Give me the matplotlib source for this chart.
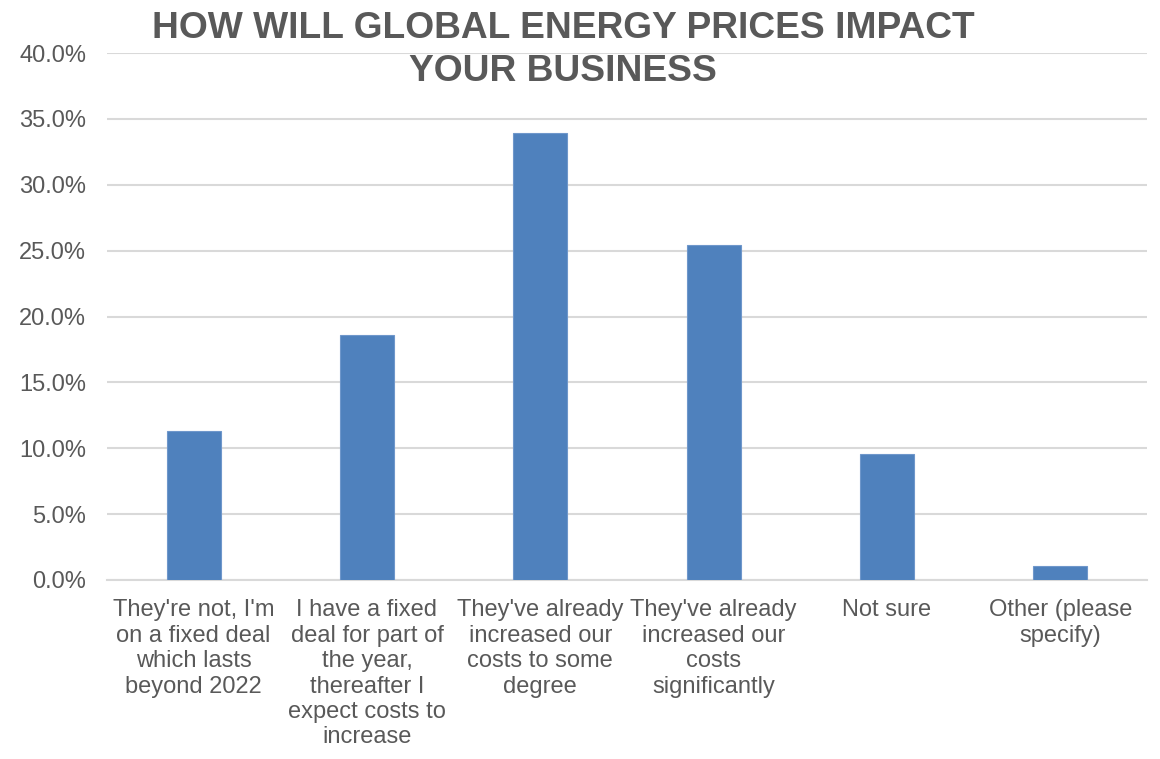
import matplotlib
matplotlib.use("Agg")
import matplotlib.pyplot as plt
from matplotlib.ticker import FuncFormatter, MultipleLocator

plt.rcParams["font.family"] = ["Liberation Sans", "DejaVu Sans"]

title = "HOW WILL GLOBAL ENERGY PRICES IMPACT\nYOUR BUSINESS"
categories = [
    "They're not, I'm\non a fixed deal\nwhich lasts\nbeyond 2022",
    "I have a fixed\ndeal for part of\nthe year,\nthereafter I\nexpect costs to\nincrease",
    "They've already\nincreased our\ncosts to some\ndegree",
    "They've already\nincreased our\ncosts\nsignificantly",
    "Not sure",
    "Other (please\nspecify)",
]
shares = [11.3, 18.6, 33.9, 25.4, 9.6, 1.1]

text_color = "#595959"
bar_color = "#4F81BD"
grid_color = "#D9D9D9"

fig = plt.figure(figsize=(11.6, 7.59), dpi=100)
ax = fig.add_axes([107 / 1160, 1 - 580 / 759, 1040 / 1160, 527 / 759])

x = range(len(categories))
ax.bar(x, shares, width=0.313, color=bar_color, edgecolor="#6F97CB",
       linewidth=0.8, zorder=3)

ax.set_xlim(-0.5, len(categories) - 0.5)
ax.set_ylim(0, 40)
ax.yaxis.set_major_locator(MultipleLocator(5))
ax.yaxis.set_major_formatter(FuncFormatter(lambda v, _: f"{v:.1f}%"))
ax.grid(axis="y", color=grid_color, linewidth=1.5, zorder=0)
ax.set_axisbelow(True)

ax.set_xticks(list(x))
ax.set_xticklabels(categories, fontsize=17, color=text_color,
                   linespacing=1.2, va="top")
ax.tick_params(axis="x", length=0, pad=14)
ax.tick_params(axis="y", length=0, pad=15, labelsize=17, labelcolor=text_color)

for side in ("top", "right", "left"):
    ax.spines[side].set_visible(False)
ax.spines["bottom"].set_color(grid_color)
ax.spines["bottom"].set_linewidth(1.5)

fig.text(563 / 1160, 1 - 11 / 759, title, ha="center", va="top",
         fontsize=26.7, fontweight="bold", color=text_color, linespacing=1.29)

fig.savefig("out.png", dpi=100)
